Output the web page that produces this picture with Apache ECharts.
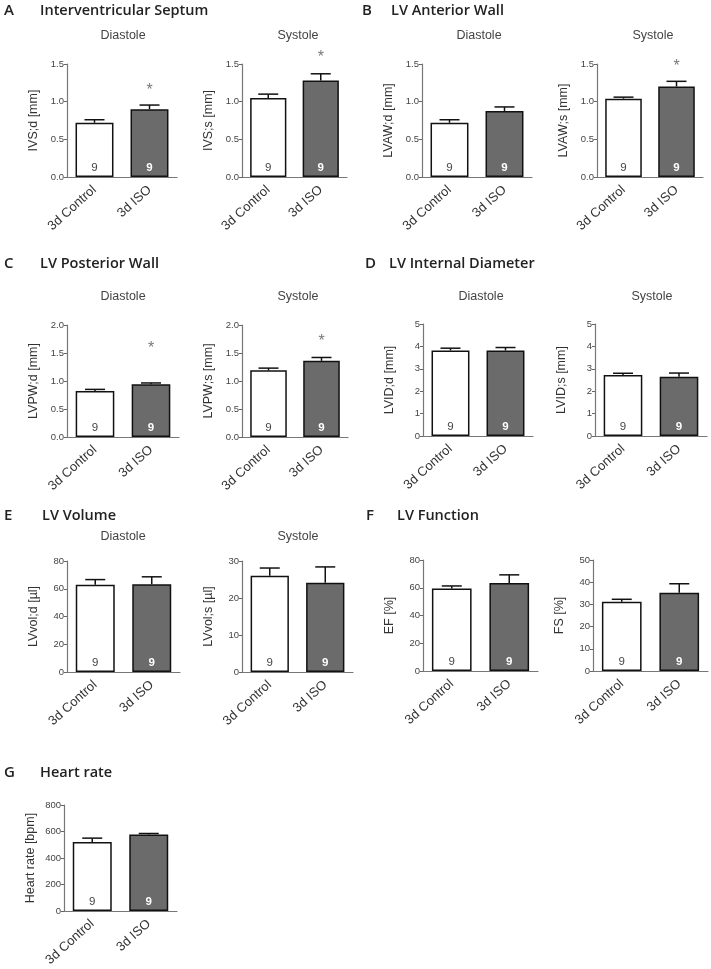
<!DOCTYPE html>
<html><head><meta charset="utf-8">
<script src="https://cdn.jsdelivr.net/npm/echarts@6/dist/echarts.min.js"></script>
<style>html,body{margin:0;padding:0;background:#fff}#c{width:711px;height:969px}</style>
</head><body><div id="c"></div>
<script>
// ---- data ----
const categories = ['3d Control', '3d ISO'];
const nCounts = [9, 9];
const ivsdMean = [0.72, 0.90], ivsdErr = [0.04, 0.055];
const ivssMean = [1.05, 1.28], ivssErr = [0.05, 0.09];
const lvawdMean = [0.72, 0.875], lvawdErr = [0.04, 0.055];
const lvawsMean = [1.04, 1.20], lvawsErr = [0.02, 0.07];
const lvpwdMean = [0.82, 0.94], lvpwdErr = [0.03, 0.025];
const lvpwsMean = [1.19, 1.36], lvpwsErr = [0.04, 0.06];
const lviddMean = [3.82, 3.82], lviddErr = [0.10, 0.13];
const lvidsMean = [2.72, 2.64], lvidsErr = [0.08, 0.17];
const lvvoldMean = [62.8, 63.3], lvvoldErr = [3.8, 5.3];
const lvvolsMean = [26.0, 24.1], lvvolsErr = [2.1, 4.3];
const efMean = [59.5, 63.5], efErr = [1.8, 5.8];
const fsMean = [31.2, 35.3], fsErr = [1.1, 4.0];
const hrMean = [520, 578], hrErr = [30, 7];
// significance star positions (value-axis units, null = none)
const ivsdStar = 1.15, ivssStar = 1.58, lvawsStar = 1.46, lvpwdStar = 1.57, lvpwsStar = 1.71;

// ---- layout ----
const panels = [
  {mean: ivsdMean, err: ivsdErr, star: ivsdStar, name: 'IVS;d [mm]', max: 1.5, interval: 0.5, dec: 1, g: [67, 64, 110, 113]},
  {mean: ivssMean, err: ivssErr, star: ivssStar, name: 'IVS;s [mm]', max: 1.5, interval: 0.5, dec: 1, g: [242, 64, 105, 113]},
  {mean: lvawdMean, err: lvawdErr, star: null, name: 'LVAW;d [mm]', max: 1.5, interval: 0.5, dec: 1, g: [422, 64, 110, 113]},
  {mean: lvawsMean, err: lvawsErr, star: lvawsStar, name: 'LVAW;s [mm]', max: 1.5, interval: 0.5, dec: 1, g: [597, 64, 106, 113]},
  {mean: lvpwdMean, err: lvpwdErr, star: lvpwdStar, name: 'LVPW;d [mm]', max: 2.0, interval: 0.5, dec: 1, g: [67, 325, 112, 112]},
  {mean: lvpwsMean, err: lvpwsErr, star: lvpwsStar, name: 'LVPW;s [mm]', max: 2.0, interval: 0.5, dec: 1, g: [242, 325, 106, 112]},
  {mean: lviddMean, err: lviddErr, star: null, name: 'LVID;d [mm]', max: 5, interval: 1, dec: 0, g: [423, 324, 110, 112]},
  {mean: lvidsMean, err: lvidsErr, star: null, name: 'LVID;s [mm]', max: 5, interval: 1, dec: 0, g: [595, 324, 112, 112]},
  {mean: lvvoldMean, err: lvvoldErr, star: null, name: 'LVvol;d [µl]', max: 80, interval: 20, dec: 0, g: [67, 561, 113, 111]},
  {mean: lvvolsMean, err: lvvolsErr, star: null, name: 'LVvol;s [µl]', max: 30, interval: 10, dec: 0, g: [242, 561, 111, 111]},
  {mean: efMean, err: efErr, star: null, name: 'EF [%]', max: 80, interval: 20, dec: 0, g: [423, 560, 115, 111]},
  {mean: fsMean, err: fsErr, star: null, name: 'FS [%]', max: 50, interval: 10, dec: 0, g: [593, 560, 115, 111]},
  {mean: hrMean, err: hrErr, star: null, name: 'Heart rate [bpm]', max: 800, interval: 200, dec: 0, g: [64, 805, 113, 110]}
];
const headers = [
  {l: 'A', t: 'Interventricular Septum', x: 4, lx: 40, y: 3},
  {l: 'B', t: 'LV Anterior Wall', x: 362, lx: 391, y: 3},
  {l: 'C', t: 'LV Posterior Wall', x: 4, lx: 40, y: 256},
  {l: 'D', t: 'LV Internal Diameter', x: 365, lx: 389, y: 256},
  {l: 'E', t: 'LV Volume', x: 4, lx: 42, y: 508},
  {l: 'F', t: 'LV Function', x: 366, lx: 397, y: 508},
  {l: 'G', t: 'Heart rate', x: 4, lx: 40, y: 765}
];
const subs = [
  {t: 'Diastole', cx: 123, y: 29}, {t: 'Systole', cx: 298, y: 29},
  {t: 'Diastole', cx: 479, y: 29}, {t: 'Systole', cx: 653, y: 29},
  {t: 'Diastole', cx: 123, y: 290}, {t: 'Systole', cx: 298, y: 290},
  {t: 'Diastole', cx: 481, y: 290}, {t: 'Systole', cx: 652, y: 290},
  {t: 'Diastole', cx: 123, y: 530}, {t: 'Systole', cx: 298, y: 530}
];

const FONT = 'Liberation Sans';
const titles = [];
headers.forEach(h => {
  titles.push({text: h.l, left: h.x, top: h.y, padding: 0, textStyle: {fontFamily: 'Open Sans', fontSize: 15, fontWeight: 600, color: '#222'}});
  titles.push({text: h.t, left: h.lx, top: h.y, padding: 0, textStyle: {fontFamily: 'Open Sans', fontSize: 14.5, fontWeight: 600, color: '#222'}});
});
subs.forEach(s => {
  titles.push({text: s.t, left: s.cx, top: s.y, padding: 0, textAlign: 'center', textStyle: {fontFamily: FONT, fontSize: 12.5, fontWeight: 'normal', color: '#444'}});
});

const grids = [], xAxes = [], yAxes = [], series = [];
panels.forEach((p, i) => {
  grids.push({left: p.g[0], top: p.g[1], width: p.g[2], height: p.g[3], containLabel: false});
  xAxes.push({
    type: 'category', gridIndex: i, data: categories,
    axisLine: {lineStyle: {color: '#777', width: 1.2}},
    axisTick: {alignWithLabel: true, length: 4, lineStyle: {color: '#555'}},
    axisLabel: {rotate: 42, fontFamily: FONT, fontSize: 13, color: '#333', margin: 11, interval: 0}
  });
  yAxes.push({
    type: 'value', gridIndex: i, min: 0, max: p.max, interval: p.interval,
    name: p.name, nameLocation: 'middle', nameGap: 27,
    nameTextStyle: {fontFamily: FONT, fontSize: 12.5, color: '#333'},
    axisLine: {show: true, lineStyle: {color: '#777', width: 1.2}},
    axisTick: {show: true, length: 3, lineStyle: {color: '#666'}},
    splitLine: {show: false},
    axisLabel: {fontFamily: FONT, fontSize: 9.5, color: '#444', margin: 3,
      formatter: v => v.toFixed(p.dec)}
  });
  series.push({
    type: 'bar', xAxisIndex: i, yAxisIndex: i, barWidth: '69%',
    data: p.mean.map((v, k) => ({
      value: v,
      itemStyle: {color: k === 0 ? '#ffffff' : '#6b6b6b', borderColor: '#111', borderWidth: 1.5},
      label: {show: true, position: 'insideBottom', distance: 3, formatter: String(nCounts[k]),
        fontFamily: FONT, fontSize: 11.5, fontWeight: k === 0 ? 'normal' : 'bold', color: k === 0 ? '#444' : '#fff'}
    })),
    z: 2
  });
  series.push({
    type: 'custom', xAxisIndex: i, yAxisIndex: i, z: 3, clip: false,
    data: p.mean.map((v, k) => [k, v, p.err[k]]),
    renderItem: (params, api) => {
      const x = api.value(0), m = api.value(1), e = api.value(2);
      const p0 = api.coord([x, m]), p1 = api.coord([x, m + e]);
      const st = {stroke: '#111', lineWidth: 1.5};
      return {type: 'group', children: [
        {type: 'line', shape: {x1: p0[0], y1: p0[1], x2: p1[0], y2: p1[1]}, style: st},
        {type: 'line', shape: {x1: p1[0] - 10, y1: p1[1], x2: p1[0] + 10, y2: p1[1]}, style: st}
      ]};
    }
  });
  if (p.star !== null) {
    series.push({
      type: 'scatter', xAxisIndex: i, yAxisIndex: i, symbolSize: 1, z: 4, clip: false,
      itemStyle: {color: 'rgba(0,0,0,0)'},
      data: [[1, p.star]],
      label: {show: true, position: 'inside', formatter: '*', fontFamily: FONT, fontSize: 16, color: '#555'}
    });
  }
});

const chart = echarts.init(document.getElementById('c'), null, {renderer: 'canvas'});
chart.setOption({animation: false, title: titles, grid: grids, xAxis: xAxes, yAxis: yAxes, series: series});
</script></body></html>
